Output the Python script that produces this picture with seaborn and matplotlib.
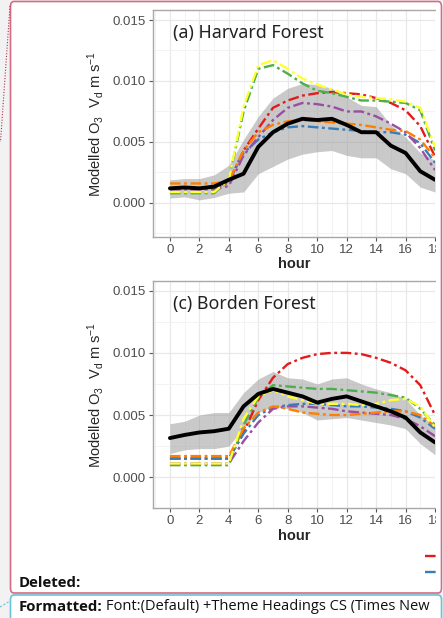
import matplotlib
matplotlib.use("Agg")
import matplotlib.pyplot as plt
import seaborn as sns
import pandas as pd
from matplotlib.patches import FancyBboxPatch, Rectangle
from matplotlib.lines import Line2D
from matplotlib.ticker import FormatStrFormatter

# data (Vd in m/s, hours 0-18)
hours = list(range(19))
models = ["Model 1", "Model 2", "Model 3", "Model 4", "Model 5", "Model 6"]
model_colors = ["#E41A1C", "#377EB8", "#4DAF4A", "#984EA3", "#FF7F00", "#FFFF33"]

# (a) Harvard Forest
hf_obs = [0.0012, 0.00127, 0.0012, 0.00134, 0.0019, 0.0024, 0.0046, 0.0058, 0.0065, 0.0069,
          0.0068, 0.0069, 0.0064, 0.0058, 0.0058, 0.0047, 0.0041, 0.0026, 0.0019]
hf_lo = [0.0004, 0.0005, 0.00025, 0.00045, 0.0008, 0.0009, 0.0024, 0.0030, 0.0036, 0.0040,
         0.0042, 0.0043, 0.0039, 0.0037, 0.0037, 0.0028, 0.0024, 0.0013, 0.0009]
hf_hi = [0.0019, 0.0020, 0.0020, 0.0023, 0.0031, 0.0052, 0.0071, 0.0086, 0.0094, 0.0098,
         0.0097, 0.0094, 0.0087, 0.0080, 0.0079, 0.0064, 0.0054, 0.0041, 0.0035]
hf_red = [0.0012, 0.0012, 0.0012, 0.0012, 0.0017, 0.0043, 0.0061, 0.0078, 0.0084, 0.0088,
          0.0090, 0.0091, 0.0090, 0.0089, 0.0086, 0.0082, 0.0076, 0.0063, 0.0038]
hf_blue = [0.0012, 0.0012, 0.0012, 0.0012, 0.0018, 0.0041, 0.0052, 0.0058, 0.0062, 0.0063,
           0.0062, 0.0061, 0.0060, 0.0059, 0.0058, 0.0058, 0.0056, 0.0049, 0.0033]
hf_green = [0.0008, 0.0008, 0.0008, 0.0008, 0.0019, 0.0075, 0.0110, 0.0113, 0.0106, 0.0098,
            0.0092, 0.0090, 0.0087, 0.0084, 0.0084, 0.0083, 0.0082, 0.0076, 0.0043]
hf_purple = [0.0011, 0.0011, 0.0011, 0.0011, 0.0014, 0.0039, 0.0054, 0.0068, 0.0078, 0.0082,
             0.0081, 0.0079, 0.0075, 0.0075, 0.0071, 0.0065, 0.0058, 0.0045, 0.0027]
hf_orange = [0.0016, 0.0016, 0.0016, 0.0016, 0.0018, 0.0043, 0.0058, 0.0064, 0.0067, 0.0068,
             0.0067, 0.0066, 0.0065, 0.0064, 0.0062, 0.0060, 0.0059, 0.0052, 0.0037]
hf_yellow = [0.0009, 0.0009, 0.0009, 0.0009, 0.0019, 0.0079, 0.0113, 0.0117, 0.0110, 0.0102,
             0.0097, 0.0093, 0.0089, 0.0087, 0.0086, 0.0085, 0.0083, 0.0078, 0.0046]

# (c) Borden Forest
bf_obs = [0.00315, 0.0034, 0.0036, 0.0037, 0.0039, 0.0057, 0.0067, 0.0071, 0.0068, 0.0065,
          0.0060, 0.0063, 0.0065, 0.0061, 0.0057, 0.0053, 0.0048, 0.0036, 0.0028]
bf_lo = [0.0019, 0.0022, 0.0023, 0.0023, 0.0025, 0.0040, 0.0052, 0.0057, 0.0055, 0.0052,
         0.0046, 0.0047, 0.0048, 0.0046, 0.0044, 0.0042, 0.0039, 0.0027, 0.0018]
bf_hi = [0.0043, 0.0045, 0.0050, 0.0052, 0.0052, 0.0068, 0.0079, 0.0085, 0.0080, 0.0079,
         0.0075, 0.0079, 0.0080, 0.0075, 0.0071, 0.0068, 0.0063, 0.0050, 0.0041]
bf_red = [0.0015, 0.0015, 0.0015, 0.0015, 0.0015, 0.0036, 0.0062, 0.0080, 0.0091, 0.0096,
          0.0099, 0.0100, 0.0100, 0.0099, 0.0096, 0.0092, 0.0086, 0.0074, 0.0050]
bf_blue = [0.0015, 0.0015, 0.0015, 0.0015, 0.0015, 0.0035, 0.0050, 0.0056, 0.0058, 0.0059,
           0.0059, 0.0058, 0.0057, 0.0057, 0.0056, 0.0055, 0.0053, 0.0048, 0.0039]
bf_green = [0.00097, 0.00097, 0.00097, 0.00097, 0.00097, 0.0042, 0.0064, 0.0074, 0.0073, 0.0072,
            0.0071, 0.0071, 0.0070, 0.0069, 0.0068, 0.0066, 0.0064, 0.0055, 0.0042]
bf_purple = [0.0011, 0.0011, 0.0011, 0.0011, 0.0011, 0.0029, 0.0044, 0.0055, 0.0057, 0.0057,
             0.0056, 0.0055, 0.0053, 0.0052, 0.0051, 0.0050, 0.0047, 0.0041, 0.0033]
bf_orange = [0.0017, 0.0017, 0.0017, 0.0017, 0.0017, 0.0039, 0.0052, 0.0057, 0.0055, 0.0052,
             0.0051, 0.0050, 0.0050, 0.0051, 0.0052, 0.0053, 0.0053, 0.0050, 0.0041]
bf_yellow = [0.0011, 0.0011, 0.0011, 0.0011, 0.0011, 0.0047, 0.0065, 0.0070, 0.0065, 0.0062,
             0.0059, 0.0059, 0.0059, 0.0058, 0.0059, 0.0062, 0.0063, 0.0057, 0.0040]

x_ticks = [0, 2, 4, 6, 8, 10, 12, 14, 16, 18]
y_ticks = [0.000, 0.005, 0.010, 0.015]

panels = [
    ("(a) Harvard Forest", hf_obs, hf_lo, hf_hi,
     [hf_red, hf_blue, hf_green, hf_purple, hf_orange, hf_yellow], (-0.00279, 0.01582)),
    ("(c) Borden Forest", bf_obs, bf_lo, bf_hi,
     [bf_red, bf_blue, bf_green, bf_purple, bf_orange, bf_yellow], (-0.00073, 0.01578)),
]

sns.set_style("white")
plt.rcParams["font.family"] = ["Liberation Sans", "DejaVu Sans"]
plt.rcParams["mathtext.default"] = "regular"

W, H = 443, 618
fig = plt.figure(figsize=(W / 100, H / 100), dpi=100)
fig.patch.set_facecolor("#f2f2f2")

def fx(px):
    return px / W

def fy(py):
    return 1 - py / H

# comment balloon background (white) under the plots
fig.add_artist(FancyBboxPatch((fx(10.5), fy(593)), fx(431), (593 - 1.5) / H,
                              boxstyle="round,pad=0,rounding_size=0.008",
                              transform=fig.transFigure, facecolor="white",
                              edgecolor="none", zorder=-5))
fig.add_artist(FancyBboxPatch((fx(10.5), fy(640)), fx(431), (640 - 595) / H,
                              boxstyle="round,pad=0,rounding_size=0.008",
                              transform=fig.transFigure, facecolor="white",
                              edgecolor="none", zorder=-5))

dash_style = (4.5, 1.5, 1.2, 1.5)
axes_px = [(10, 237), (281, 508.3)]

for (title, obs, lo, hi, series, ylim), (top, bot) in zip(panels, axes_px):
    ax = fig.add_axes([fx(153), fy(bot), fx(435 - 153), (bot - top) / H])
    ax.set_facecolor("white")

    ax.fill_between(hours, lo, hi, color="#999999", alpha=0.52, lw=0, zorder=1)

    long_df = pd.DataFrame({
        "hour": hours * len(models),
        "vd": [v for s in series for v in s],
        "model": [m for m in models for _ in hours],
    })
    sns.lineplot(data=long_df, x="hour", y="vd", hue="model", style="model",
                 palette=dict(zip(models, model_colors)),
                 dashes={m: dash_style for m in models},
                 linewidth=1.7, legend=False, ax=ax, zorder=2)
    sns.lineplot(x=hours, y=obs, color="black", linewidth=2.8, ax=ax, zorder=3)

    ax.set_xlim(-1.15, 18.0)
    ax.set_ylim(*ylim)
    ax.set_xticks(x_ticks)
    ax.set_xticks(range(-1, 19, 2), minor=True)
    ax.set_yticks(y_ticks)
    ax.set_yticks([-0.0025, 0.0025, 0.0075, 0.0125], minor=True)
    ax.yaxis.set_major_formatter(FormatStrFormatter("%.3f"))
    ax.grid(which="major", color="#e8e8e8", linewidth=0.9)
    ax.grid(which="minor", color="#f1f1f1", linewidth=0.6)
    ax.set_axisbelow(True)
    ax.tick_params(which="major", length=3, width=0.8, color="#555555",
                   labelsize=9.5, labelcolor="#4d4d4d", pad=2, bottom=True, left=True)
    ax.tick_params(which="minor", length=0)
    for side in ["left", "top", "bottom"]:
        ax.spines[side].set_color("#a8a8a8")
        ax.spines[side].set_linewidth(1.0)
    ax.spines["right"].set_visible(False)

    ax.set_xlabel("hour", fontsize=10.5, fontweight="bold", labelpad=1)
    ax.set_ylabel("Modelled O$_3$  V$_d$ m s$^{-1}$", fontsize=10.5)
    ax.yaxis.set_label_coords(-0.165, 0.5)
    ax.text(0.07, 0.90, title, transform=ax.transAxes, fontsize=12.8,
            family="Noto Sans", color="#222222", va="center", ha="left")

# legend keys cut off at the right edge (their labels fall outside the balloon)
handles = [Line2D([], [], color=c, lw=1.7, dashes=dash_style) for c in model_colors[:2]]
leg = fig.legend(handles, ["", ""], loc="upper left", bbox_to_anchor=(fx(425), fy(551)),
                 frameon=False, fontsize=9, handlelength=3, borderpad=0, borderaxespad=0,
                 labelspacing=0.35, handletextpad=0.5)
leg.set_zorder(4)

# white strip that clips the plots at the balloon edge
fig.add_artist(Rectangle((fx(435.5), fy(592)), fx(7), 590 / H, transform=fig.transFigure,
                         facecolor="white", edgecolor="none", zorder=5))

# balloon borders
fig.add_artist(FancyBboxPatch((fx(10.5), fy(593)), fx(431), (593 - 1.5) / H,
                              boxstyle="round,pad=0,rounding_size=0.008",
                              transform=fig.transFigure, facecolor="none",
                              edgecolor="#d66b84", linewidth=1.2, zorder=6))
fig.add_artist(FancyBboxPatch((fx(10.5), fy(640)), fx(431), (640 - 595) / H,
                              boxstyle="round,pad=0,rounding_size=0.008",
                              transform=fig.transFigure, facecolor="none",
                              edgecolor="#6cc3d5", linewidth=1.2, zorder=6))
fig.add_artist(Line2D([fx(10), fx(0.5)], [fy(6), fy(142)], transform=fig.transFigure,
                      color="#b0304f", lw=0.8, linestyle=(0, (1, 1.5)), zorder=6))
fig.add_artist(Line2D([fx(0), fx(10)], [fy(607), fy(601)], transform=fig.transFigure,
                      color="#6cc3d5", lw=0.8, linestyle=(0, (2, 1.5)), zorder=6))

fig.text(fx(19), fy(583), "Deleted:", fontsize=10.8, fontweight="bold",
         family="Open Sans", color="#111111", va="center", ha="left", zorder=7)
fig.text(fx(19), fy(607), "Formatted:", fontsize=10.8, fontweight="bold",
         family="Open Sans", color="#111111", va="center", ha="left", zorder=7)
fig.text(fx(106), fy(607), "Font:(Default) +Theme Headings CS (Times New", fontsize=10.5,
         family="Open Sans", color="#111111", va="center", ha="left", zorder=7)

fig.savefig("out.png", dpi=100, facecolor=fig.get_facecolor())
